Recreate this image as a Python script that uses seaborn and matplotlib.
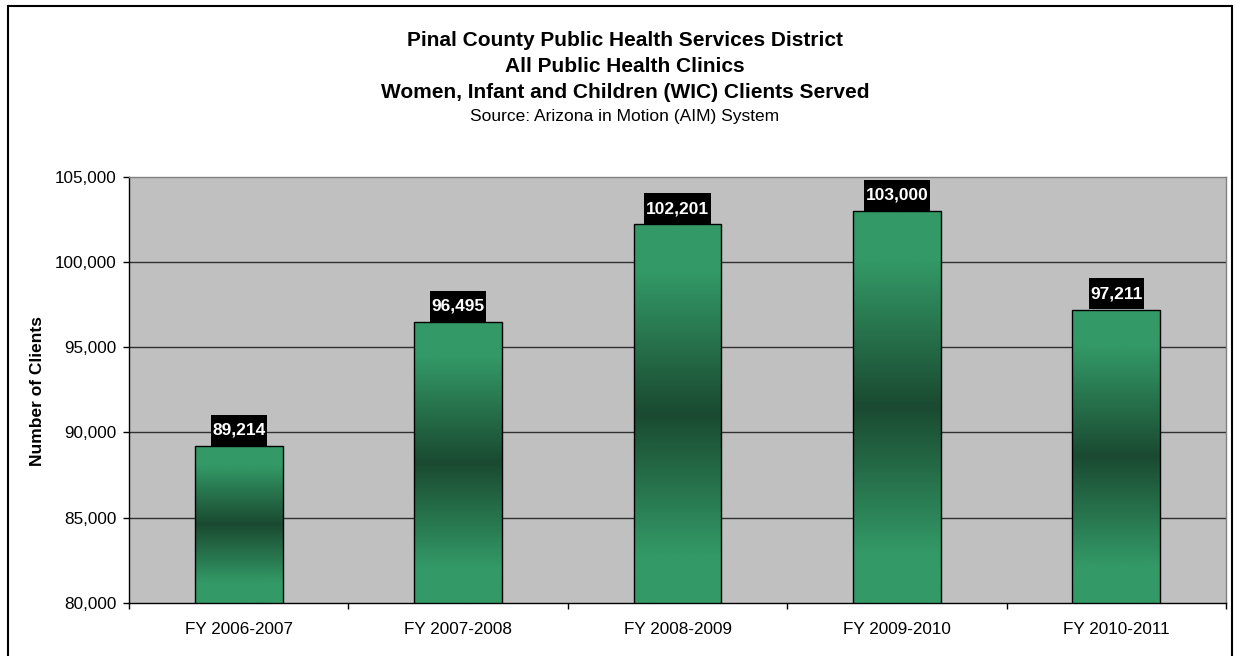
import numpy as np
import matplotlib
matplotlib.use("Agg")
import matplotlib.pyplot as plt
import seaborn as sns
from matplotlib.colors import LinearSegmentedColormap
from matplotlib.patches import Rectangle
from matplotlib.path import Path
from matplotlib.ticker import FuncFormatter, FixedLocator

# Data
years = ["FY 2006-2007", "FY 2007-2008", "FY 2008-2009", "FY 2009-2010", "FY 2010-2011"]
clients = [89214, 96495, 102201, 103000, 97211]

title_lines = [
    "Pinal County Public Health Services District",
    "All Public Health Clinics",
    "Women, Infant and Children (WIC) Clients Served",
]
source_line = "Source: Arizona in Motion (AIM) System"
y_label = "Number of Clients"

sns.set_theme(style="white")
plt.rcParams["font.family"] = ["Liberation Sans", "DejaVu Sans"]
plt.rcParams.update({
    "text.color": "black",
    "axes.labelcolor": "black",
    "xtick.color": "black",
    "ytick.color": "black",
})

LIGHT = "#339966"
DARK = "#1a4a31"
PLOT_BG = "#c0c0c0"

fig = plt.figure(figsize=(12.38, 6.56), dpi=100)
fig.patch.set_facecolor("white")
ax = fig.add_axes([129 / 1238, 1 - 603 / 656, (1226 - 129) / 1238, (603 - 176.7) / 656])
ax.set_facecolor(PLOT_BG)

sns.barplot(x=years, y=clients, width=0.4, color=LIGHT, edgecolor="black",
            linewidth=1.0, saturation=1, ax=ax)

ax.set_ylim(80000, 105000)
ax.set_xlim(-0.5, len(years) - 0.5)

# horizontal gridlines
for v in [85000, 90000, 95000, 100000]:
    ax.axhline(v, color="#303030", linewidth=1.0, zorder=0.5)

# vertical gradient fill for each bar: light at the ends, dark in the middle
cmap = LinearSegmentedColormap.from_list("wic", [DARK, LIGHT])
n = 256
pos = np.linspace(0, 1, n)
dist = np.clip(np.abs(pos - 0.5) * 2 / 0.75, 0, 1)
grad = dist.reshape(-1, 1)
y0 = ax.get_ylim()[0]
for patch in ax.patches:
    x = patch.get_x()
    w = patch.get_width()
    top = patch.get_y() + patch.get_height()
    im = ax.imshow(grad, cmap=cmap, vmin=0, vmax=1, aspect="auto",
                   extent=(x, x + w, y0, top), origin="lower", zorder=2,
                   interpolation="bilinear")
    im.set_clip_path(patch)
    patch.set_facecolor("none")
    patch.set_zorder(3)
ax.set_xlim(-0.5, len(years) - 0.5)
ax.set_ylim(80000, 105000)


# value labels in black boxes
class LabelBox:
    def __init__(self, padx, pady):
        self.padx = padx
        self.pady = pady

    def __call__(self, x0, y0, width, height, mutation_size):
        px = self.padx * mutation_size
        py = self.pady * mutation_size
        x0, y0 = x0 - px, y0 - py
        x1, y1 = x0 + width + 2 * px, y0 + height + 2 * py
        return Path([(x0, y0), (x1, y0), (x1, y1), (x0, y1), (x0, y0)], closed=True)


for i, v in enumerate(clients):
    ax.annotate(f"{v:,}", xy=(i, v), xytext=(0, 5.8), textcoords="offset points",
                ha="center", va="bottom", color="white", fontsize=12.5, fontweight="bold",
                bbox=dict(boxstyle=LabelBox(0.09, 0.46), facecolor="black", edgecolor="none"),
                zorder=5)

# axes styling
for side in ["left", "bottom"]:
    ax.spines[side].set_color("black")
    ax.spines[side].set_linewidth(1.0)
for side in ["top", "right"]:
    ax.spines[side].set_color("#808080")
    ax.spines[side].set_linewidth(1.0)

ax.yaxis.set_major_locator(FixedLocator([80000, 85000, 90000, 95000, 100000, 105000]))
ax.yaxis.set_major_formatter(FuncFormatter(lambda v, p: f"{int(v):,}"))
ax.tick_params(axis="y", which="major", direction="out", length=4, width=1,
               color="black", labelsize=12.3, pad=5, left=True)
ax.xaxis.set_minor_locator(FixedLocator(np.arange(-0.5, len(years), 1.0)))
ax.tick_params(axis="x", which="major", length=0, labelsize=12.3, pad=13.5)
ax.tick_params(axis="x", which="minor", direction="out", length=4, width=1,
               color="black", bottom=True)
ax.set_xlabel("")
ax.set_ylabel("")

fig.text(37.5 / 1238, 1 - 391 / 656, y_label, rotation=90, ha="center", va="center",
         fontsize=12.5, fontweight="bold")

# titles
cx = 625 / 1238
fig.text(cx, 1 - 40 / 656, title_lines[0], ha="center", va="center", fontsize=15, fontweight="bold")
fig.text(cx, 1 - 66 / 656, title_lines[1], ha="center", va="center", fontsize=15, fontweight="bold")
fig.text(cx, 1 - 93 / 656, title_lines[2], ha="center", va="center", fontsize=15, fontweight="bold")
fig.text(cx, 1 - 117 / 656, source_line, ha="center", va="center", fontsize=12.5)

# outer chart border
fig.patches.append(Rectangle((7.5 / 1238, -0.05), (1232 - 7.5) / 1238, 1.05 - 6 / 656,
                             transform=fig.transFigure, fill=False, edgecolor="black",
                             linewidth=1.5, zorder=10))

fig.savefig("out.png", dpi=100)
